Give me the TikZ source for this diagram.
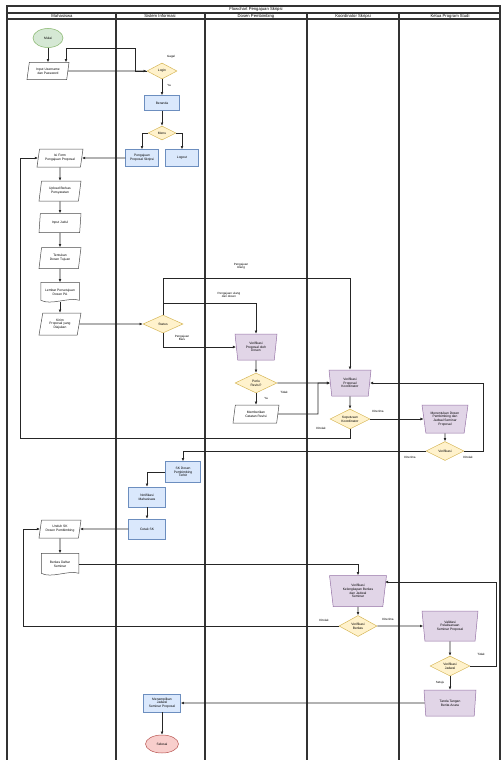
\documentclass[tikz,border=0pt]{standalone}
\usepackage{fontspec}
\setmainfont{Liberation Sans}
\usetikzlibrary{shapes.geometric,arrows.meta,calc}
\definecolor{gfill}{HTML}{D5E8D4}\definecolor{gline}{HTML}{82B366}
\definecolor{yfill}{HTML}{FFF2CC}\definecolor{yline}{HTML}{D6B656}
\definecolor{bfill}{HTML}{DAE8FC}\definecolor{bline}{HTML}{6C8EBF}
\definecolor{pfill}{HTML}{E1D5E7}\definecolor{pline}{HTML}{9673A6}
\definecolor{rfill}{HTML}{F8CECC}\definecolor{rline}{HTML}{B85450}
\tikzset{
 box/.style={font=\fontsize{3.3}{3.8}\selectfont, align=center, inner sep=0.5pt, line width=0.5pt},
 startbox/.style={box, ellipse, draw=gline, fill=gfill},
 endbox/.style={box, ellipse, draw=rline, fill=rfill},
 procbox/.style={box, rectangle, draw=bline, fill=bfill},
 iobox/.style={box, trapezium, trapezium left angle=72, trapezium right angle=108, trapezium stretches body, draw=black!70, fill=white},
 decbox/.style={box, diamond, aspect=2, draw=yline, fill=yfill},
 manbox/.style={box, trapezium, trapezium angle=76, shape border rotate=180, trapezium stretches body, draw=pline, fill=pfill},
 docbox/.style={box, rectangle, draw=none},
 arr/.style={-{Latex[length=3.2pt,width=2.8pt]}, line width=0.7pt, black!85},
 lbl/.style={font=\fontsize{3}{3.5}\selectfont, align=center, inner sep=0pt},
 lane/.style={line width=1.1pt, black!80},
 hdr/.style={font=\fontsize{4.2}{5}\selectfont, inner sep=0pt},
}
\newcommand{\docpath}[1]{\draw[line width=0.5pt, draw=black!70] (#1.north west) -- (#1.north east) -- ([yshift=1.5pt]#1.south east) .. controls ($(#1.south)!0.5!(#1.south east)+(0,5pt)$) and ($(#1.south)!0.5!(#1.south west)+(0,-4pt)$) .. ([yshift=1.5pt]#1.south west) -- cycle;}
\begin{document}
\begin{tikzpicture}[x=1pt,y=-1pt]
\useasboundingbox (0,0) rectangle (501,760);
% swimlanes
\draw[lane] (7,760) -- (7,6) -- (500,6) -- (500,760);
\draw[lane] (7,13) -- (500,13);
\draw[lane] (7,19) -- (500,19);
\foreach \xx in {116,205,307,399} \draw[lane] (\xx,13) -- (\xx,760);
\node[hdr] (title) at (256,9.5) {Flowchart Pengajuan Skripsi};
\node[hdr] (hmhs) at (62,16) {Mahasiswa};
\node[hdr] (hsis) at (160,16) {Sistem Informasi};
\node[hdr] (hdos) at (256,16) {Dosen Pembimbing};
\node[hdr] (hkor) at (353,16) {Koordinator Skripsi};
\node[hdr] (hkap) at (450,16) {Ketua Program Studi};
% nodes
\node[startbox, minimum width=30pt, minimum height=19pt] (start) at (48,38) {Mulai};
\node[iobox, minimum width=42pt, minimum height=17pt] (p0) at (48,71) {Input Username\\dan Password};
\node[decbox, minimum width=30pt, minimum height=16pt] (login) at (162,71) {Login};
\node[procbox, minimum width=35pt, minimum height=15pt] (beranda) at (162,103) {Beranda};
\node[decbox, minimum width=28pt, minimum height=14pt] (menu) at (162,133) {Menu};
\node[procbox, minimum width=33pt, minimum height=17pt] (pp) at (142,158) {Pengajuan\\Proposal Skripsi};
\node[procbox, minimum width=33pt, minimum height=17pt] (lo) at (182,158) {Logout};
\node[iobox, minimum width=46pt, minimum height=18pt] (p1) at (60,158) {Isi Form\\Pengajuan Proposal};
\node[iobox, minimum width=42pt, minimum height=20pt] (p2) at (60,191) {Upload Berkas\\Persyaratan};
\node[iobox, minimum width=42pt, minimum height=19pt] (p3) at (60,223) {Input Judul};
\node[iobox, minimum width=42pt, minimum height=21pt] (p4) at (60,258) {Tentukan\\Dosen Tujuan};
\node[docbox, minimum width=38pt, minimum height=19pt] (doc1) at (60,292) {Lembar Persetujuan\\Dosen PA};
\docpath{doc1}
\node[iobox, minimum width=42pt, minimum height=22pt] (p5) at (60,324) {Kirim\\Proposal yang\\Diajukan};
\node[decbox, minimum width=40pt, minimum height=18pt] (status) at (163,324) {Status};
\node[manbox, minimum width=42pt, minimum height=26pt] (d1) at (256,347) {Verifikasi\\Proposal oleh\\Dosen};
\node[decbox, minimum width=42pt, minimum height=20pt] (dd1) at (256,383) {Perlu\\Revisi?};
\node[iobox, minimum width=46pt, minimum height=18pt] (rev) at (256,414) {Memberikan\\Catatan Revisi};
\node[manbox, minimum width=42pt, minimum height=26pt] (k1) at (350,383) {Verifikasi\\Proposal\\Koordinator};
\node[decbox, minimum width=40pt, minimum height=20pt] (kk1) at (350,419) {Keputusan\\Koordinator};
\node[manbox, minimum width=46pt, minimum height=28pt] (h1) at (445,419) {Menentukan Dosen\\Pembimbing dan\\Jadwal Seminar\\Proposal};
\node[decbox, minimum width=38pt, minimum height=19pt] (hh1) at (445,451) {Verifikasi};
\node[procbox, minimum width=35pt, minimum height=21pt] (sk) at (183,472) {SK Dosen\\Pembimbing\\Terbit};
\node[procbox, minimum width=37pt, minimum height=20pt] (notif) at (147,497) {Notifikasi\\Mahasiswa};
\node[procbox, minimum width=37pt, minimum height=20pt] (cetak) at (147,529) {Cetak SK};
\node[iobox, minimum width=42pt, minimum height=18pt] (p6) at (60,529) {Unduh SK\\Dosen Pembimbing};
\node[docbox, minimum width=37pt, minimum height=21pt] (doc2) at (60,564) {Berkas Daftar\\Seminar};
\docpath{doc2}
\node[manbox, minimum width=57pt, minimum height=31pt] (k2) at (358,591) {Verifikasi\\Kelengkapan Berkas\\dan Jadwal\\Seminar};
\node[decbox, minimum width=38pt, minimum height=21pt] (kk2) at (358,626) {Verifikasi\\Berkas};
\node[manbox, minimum width=56pt, minimum height=30pt] (h2) at (450,626) {Validasi\\Pelaksanaan\\Seminar Proposal};
\node[decbox, minimum width=40pt, minimum height=20pt] (hh2) at (450,666) {Verifikasi\\Jadwal};
\node[manbox, minimum width=52pt, minimum height=26pt] (h3) at (450,703) {Tanda Tangan\\Berita Acara};
\node[procbox, minimum width=37pt, minimum height=18pt] (fin) at (162,703) {Menampilkan\\Jadwal\\Seminar Proposal};
\node[endbox, minimum width=33pt, minimum height=18pt] (end) at (162,744) {Selesai};
% coordinates
\coordinate (g1) at (135,71);
\coordinate (g2) at (135,48);
\coordinate (s1) at (163,278);
\coordinate (s2) at (163,303);
\coordinate (r1) at (318,414);
\coordinate (c1) at (350,438);
\coordinate (c2) at (20,438);
\coordinate (c3) at (483,451);
\coordinate (c4) at (23,626);
\coordinate (c5) at (496,666);
% connectors
\draw[arr] (start) -- (p0);
\draw[arr] (p0) -- (login);
\draw[arr] (login.west) -- (g1) -- (g2) -| ([xshift=18pt]p0.north);
\draw[arr] (login) -- (beranda);
\draw[arr] (beranda) -- (menu);
\draw[arr] (menu.west) -| (pp.north);
\draw[arr] (menu.east) -| (lo.north);
\draw[arr] (pp) -- (p1);
\draw[arr] (p1) -- (p2);
\draw[arr] (p2) -- (p3);
\draw[arr] (p3) -- (p4);
\draw[arr] (p4) -- (doc1);
\draw[arr] (doc1) -- (p5);
\draw[arr] (p5) -- (status);
\draw[arr] (status.north) -- (s1) -| (k1.north);
\draw[arr] (s2) -| (d1.north);
\draw[arr] (status.south) |- (d1.west);
\draw[arr] (d1) -- (dd1);
\draw[arr] (dd1) -- (rev);
\draw[arr] (dd1) -- (k1);
\draw[arr] (rev.east) -- (r1) |- (k1.west);
\draw[arr] (k1) -- (kk1);
\draw[arr] (kk1) -- (h1);
\draw[arr] (kk1.south) -- (c1) -- (c2) |- (p1.west);
\draw[arr] (h1) -- (hh1);
\draw[arr] (hh1.west) -| (sk.north);
\draw[arr] (hh1.east) -- (c3) |- (k1.east);
\draw[arr] (sk.west) -| (notif.north);
\draw[arr] (notif) -- (cetak);
\draw[arr] (cetak) -- (p6);
\draw[arr] (p6) -- (doc2);
\draw[arr] (doc2.east) -| (k2.north);
\draw[arr] (k2) -- (kk2);
\draw[arr] (kk2) -- (h2);
\draw[arr] (kk2.west) -- (c4) |- (p6.west);
\draw[arr] (h2) -- (hh2);
\draw[arr] (hh2.east) -- (c5) |- ([yshift=9pt]k2.east);
\draw[arr] (hh2) -- (h3);
\draw[arr] (h3) -- (fin);
\draw[arr] (fin) -- (end);
% labels
\node[lbl] (lgagal) at (171,57) {Gagal};
\node[lbl] (lya) at (169,85) {Ya};
\node[lbl] (lpu) at (241,266) {Pengajuan\\Ulang};
\node[lbl] (lpd) at (229,295) {Pengajuan ulang\\dari dosen};
\node[lbl] (lpb) at (182,338) {Pengajuan\\Baru};
\node[lbl] (ltd1) at (284,392) {Tidak};
\node[lbl] (lya1) at (266,398) {Ya};
\node[lbl] (lter1) at (378,411) {Diterima};
\node[lbl] (ltol1) at (321,428) {Ditolak};
\node[lbl] (lter2) at (410,457) {Diterima};
\node[lbl] (ltol2) at (468,457) {Ditolak};
\node[lbl] (ltol3) at (324,620) {Ditolak};
\node[lbl] (lter3) at (388,619) {Diterima};
\node[lbl] (ltd2) at (481,654) {Tidak};
\node[lbl] (lset) at (440,683) {Setuju};
\end{tikzpicture}
\end{document}
